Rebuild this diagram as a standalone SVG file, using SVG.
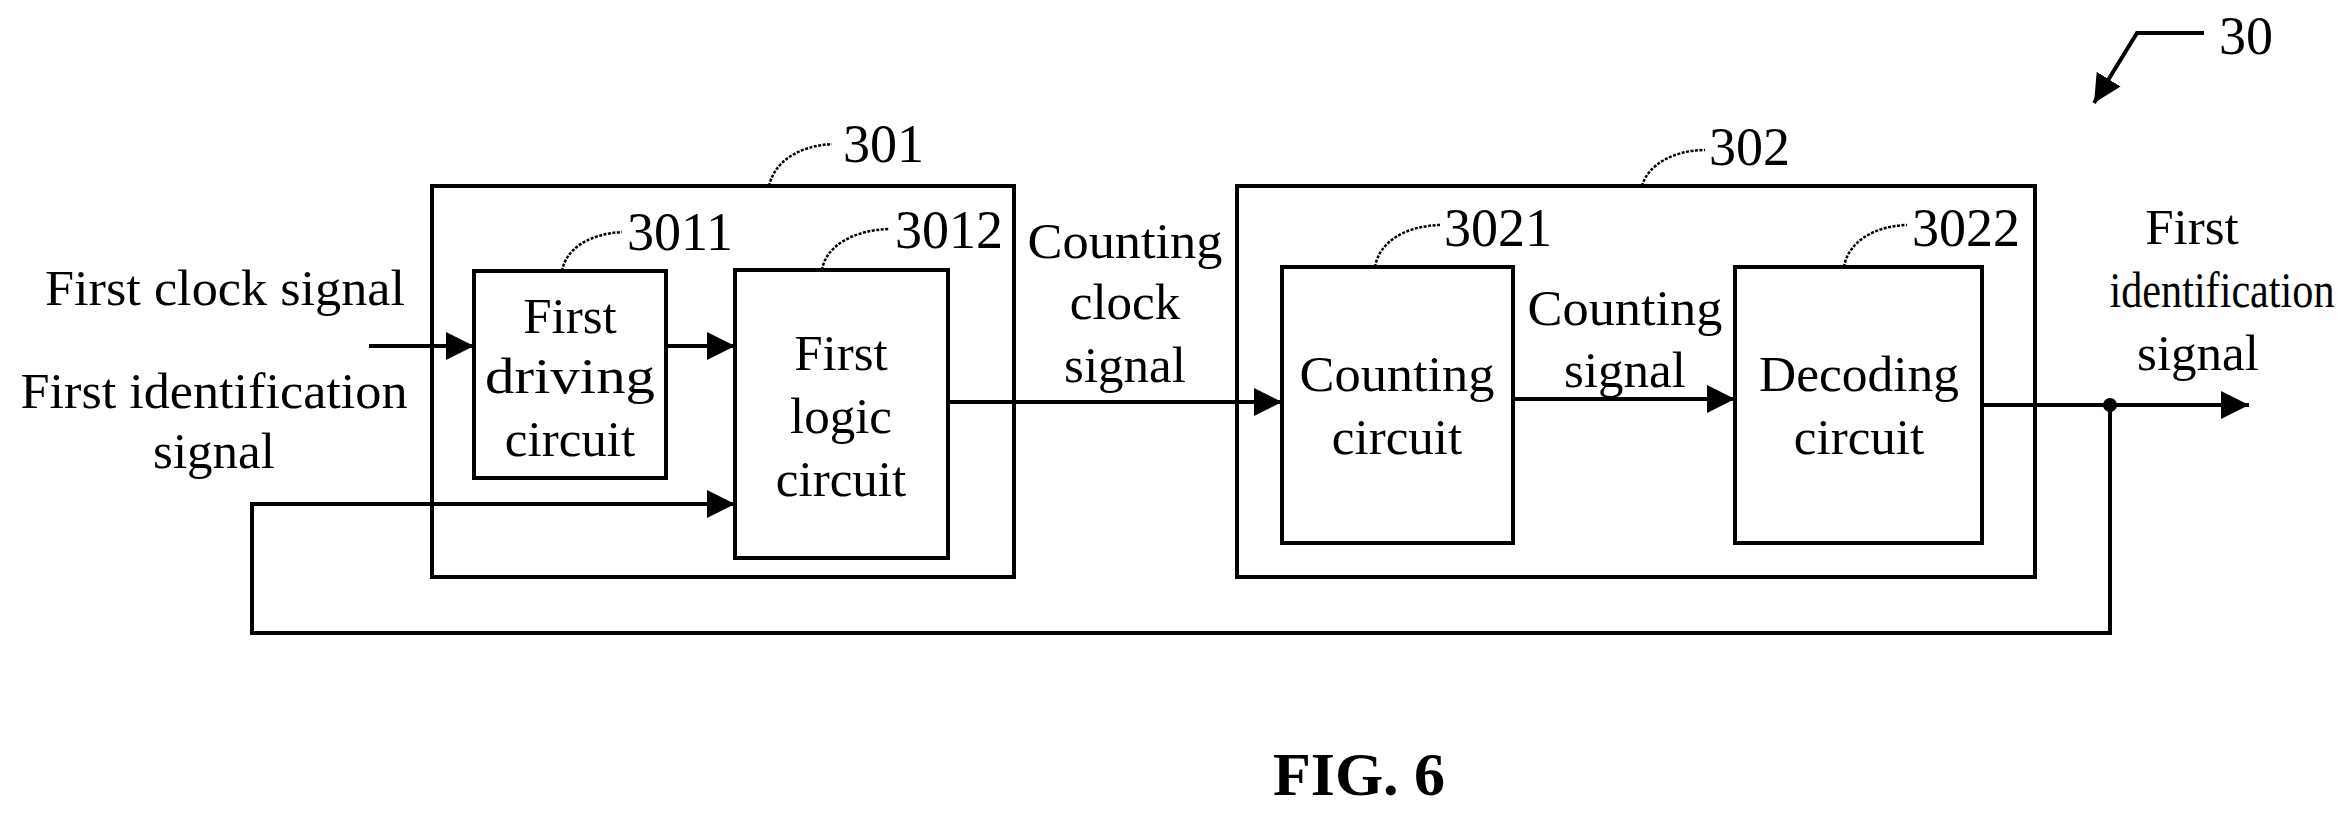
<svg xmlns="http://www.w3.org/2000/svg" width="2351" height="816" viewBox="0 0 2351 816">
<style>
.b{fill:none;stroke:#000;stroke-width:4}
.l{fill:none;stroke:#000;stroke-width:4}
.d{fill:none;stroke:#000;stroke-width:2.5;stroke-dasharray:3 1.5}
text{font-family:"Liberation Serif",serif;font-size:51px;fill:#000;text-anchor:middle}
.n{text-anchor:start;font-size:54px}
</style>
<defs><marker id="ar" viewBox="0 0 10 10" refX="10" refY="5" markerWidth="28" markerHeight="28" markerUnits="userSpaceOnUse" orient="auto"><path d="M0,0L10,5L0,10z" fill="#000"/></marker></defs>
<rect width="2351" height="816" fill="#fff"/>
<g id="n301"><rect class="b" x="432" y="186" width="582" height="391"/><path class="d" d="M769,186C775,160 800,146 832,144"/><text class="n" x="843" y="162">301</text></g>
<g id="n3011"><rect class="b" x="474" y="271" width="192" height="207"/><text x="570" y="333">First</text><text x="570" y="393" textLength="170" lengthAdjust="spacingAndGlyphs">driving</text><text x="570" y="456">circuit</text><path class="d" d="M562,271C566,248 590,234 622,232"/><text class="n" x="627" y="250">3011</text></g>
<g id="n3012"><rect class="b" x="735" y="270" width="213" height="288"/><text x="841" y="370">First</text><text x="841" y="433">logic</text><text x="841" y="496">circuit</text><path class="d" d="M822,270C826,245 855,230 889,229"/><text class="n" x="895" y="248">3012</text></g>
<g id="n302"><rect class="b" x="1237" y="186" width="798" height="391"/><path class="d" d="M1642,186C1648,164 1675,150 1705,150"/><text class="n" x="1709" y="165">302</text></g>
<g id="n3021"><rect class="b" x="1282" y="267" width="231" height="276"/><text x="1397" y="391" textLength="195" lengthAdjust="spacingAndGlyphs">Counting</text><text x="1397" y="454">circuit</text><path class="d" d="M1375,267C1379,242 1405,226 1440,225"/><text class="n" x="1444" y="246">3021</text></g>
<g id="n3022"><rect class="b" x="1735" y="267" width="247" height="276"/><text x="1859" y="391" textLength="200" lengthAdjust="spacingAndGlyphs">Decoding</text><text x="1859" y="454">circuit</text><path class="d" d="M1844,267C1848,242 1874,226 1907,225"/><text class="n" x="1912" y="246">3022</text></g>
<g id="connectors">
<path class="l" d="M369,346H474" marker-end="url(#ar)"/>
<path class="l" d="M666,346H735" marker-end="url(#ar)"/>
<path class="l" d="M948,402H1282" marker-end="url(#ar)"/>
<path class="l" d="M1513,399H1735" marker-end="url(#ar)"/>
<path class="l" d="M1982,405H2249" marker-end="url(#ar)"/>
<path class="l" d="M2110,405V633H252V504H735" marker-end="url(#ar)"/>
<circle cx="2110" cy="405" r="7" fill="#000"/>
<path class="l" d="M2204,33H2137L2094,103" marker-end="url(#ar)"/>
</g>
<g id="labels">
<text x="225" y="305" textLength="360" lengthAdjust="spacingAndGlyphs">First clock signal</text>
<text x="214" y="408" textLength="387" lengthAdjust="spacingAndGlyphs">First identification</text><text x="214" y="468">signal</text>
<text x="1125" y="258" textLength="195" lengthAdjust="spacingAndGlyphs">Counting</text><text x="1125" y="319">clock</text><text x="1125" y="382">signal</text>
<text x="1625" y="325" textLength="195" lengthAdjust="spacingAndGlyphs">Counting</text><text x="1625" y="387">signal</text>
<text x="2192" y="244">First</text><text x="2222" y="307" textLength="225" lengthAdjust="spacingAndGlyphs">identification</text><text x="2198" y="370">signal</text>
<text class="n" x="2219" y="54">30</text>
<text x="1359" y="795" style="font-weight:bold;font-size:62px">FIG. 6</text>
</g>
</svg>
